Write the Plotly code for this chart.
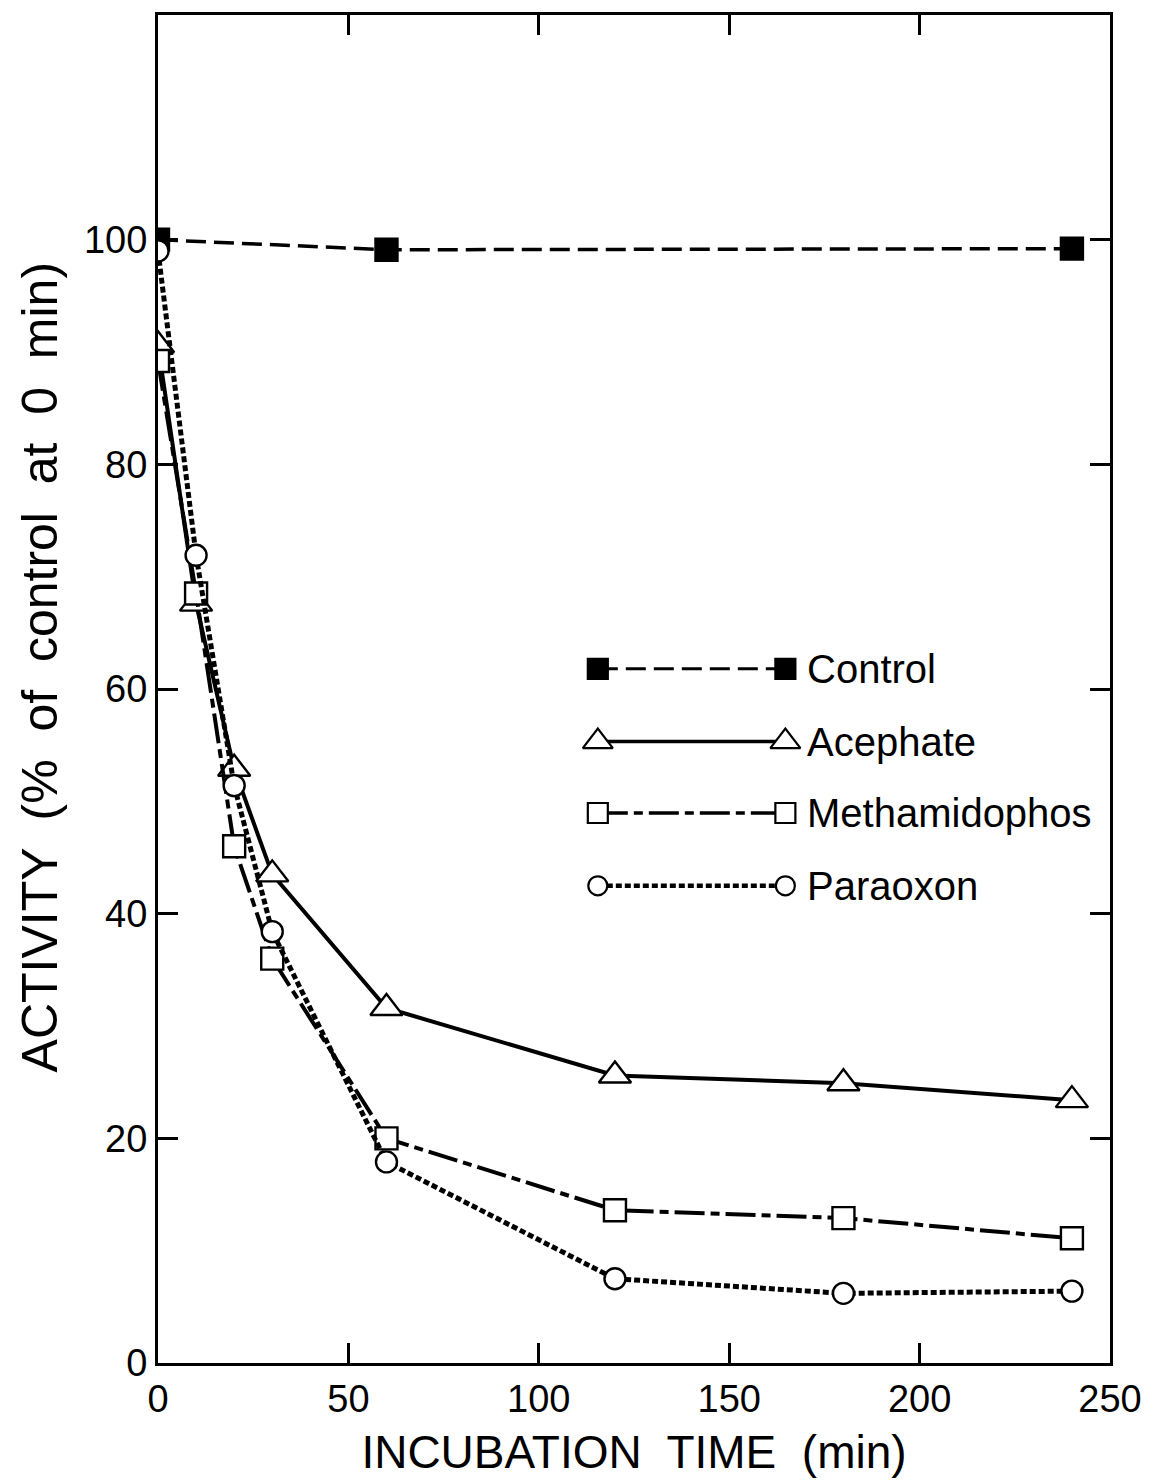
import plotly.graph_objects as go

# Incubation times (min)
time_control = [0, 60, 240]
time_series = [0, 10, 20, 30, 60, 120, 180, 240]

# Activity (% of control at 0 min)
control = [100, 99.1, 99.2]
acephate = [90.6, 67.6, 52.9, 43.5, 31.6, 25.6, 24.9, 23.4]
methamidophos = [89.2, 68.5, 46.0, 36.0, 20.0, 13.6, 12.9, 11.1]
paraoxon = [99.0, 71.9, 51.4, 38.4, 17.9, 7.5, 6.2, 6.4]

FONT = "Liberation Sans, Arial, Helvetica, sans-serif"
INK = "black"

styles = {
    "Control": dict(symbol="square", fill=INK, dash="20px,8px", width=3.5, size=22),
    "Acephate": dict(symbol="triangle-up", fill="white", dash="solid", width=4, size=28),
    "Methamidophos": dict(symbol="square", fill="white", dash="30px,6px,9px,6px", width=4, size=22),
    "Paraoxon": dict(symbol="circle", fill="white", dash="6px,3px", width=5, size=21),
}

series = [
    ("Control", time_control, control),
    ("Acephate", time_series, acephate),
    ("Methamidophos", time_series, methamidophos),
    ("Paraoxon", time_series, paraoxon),
]

fig = go.Figure()

for name, xs, ys in series:
    st = styles[name]
    fig.add_trace(go.Scatter(
        x=xs, y=ys, mode="lines+markers", name=name, showlegend=False,
        line=dict(color=INK, width=st["width"], dash=st["dash"]),
        marker=dict(symbol=st["symbol"], size=st["size"], color=st["fill"],
                    line=dict(color=INK, width=2.4)),
    ))

# Hand-drawn style key: marker — line — marker, then the label (overlay axes spanning 0..1)
key_x0, key_x1, key_text_x = 0.462, 0.659, 0.68
key_rows = [0.515, 0.461, 0.408, 0.354]
for (name, _, _), ky in zip(series, key_rows):
    st = styles[name]
    fig.add_trace(go.Scatter(
        x=[key_x0, key_x1], y=[ky, ky], mode="lines+markers", showlegend=False,
        xaxis="x2", yaxis="y2", hoverinfo="skip",
        line=dict(color=INK, width=st["width"] - 0.5, dash=st["dash"]),
        marker=dict(symbol=st["symbol"], size=st["size"] - 2, color=st["fill"],
                    line=dict(color=INK, width=2.2)),
    ))
    fig.add_annotation(
        x=key_text_x, y=ky, xref="x2", yref="y2", text=name, showarrow=False,
        xanchor="left", yanchor="middle", font=dict(family=FONT, size=40, color=INK),
    )

# Vertical axis title, placed as rotated text
fig.add_annotation(
    x=-0.124, y=0.516, xref="paper", yref="paper",
    text="ACTIVITY  (%  of  control  at  0  min)", textangle=-90, showarrow=False,
    xanchor="center", yanchor="middle", font=dict(family=FONT, size=50, color=INK),
)

axis_common = dict(
    showline=True, linecolor=INK, linewidth=3, mirror="ticks",
    ticks="inside", ticklen=20, tickwidth=2.5, tickcolor=INK,
    showgrid=False, zeroline=False,
    tickfont=dict(family=FONT, size=38, color=INK),
)

fig.update_layout(
    width=1153, height=1482,
    margin=dict(l=158, r=43, t=15, b=119),
    paper_bgcolor="white", plot_bgcolor="white",
    xaxis=dict(range=[0, 250], tickvals=[0, 50, 100, 150, 200, 250],
               title=dict(text="INCUBATION  TIME  (min)", standoff=18,
                          font=dict(family=FONT, size=46, color=INK)),
               **axis_common),
    yaxis=dict(range=[0, 120], tickvals=[0, 20, 40, 60, 80, 100], **axis_common),
    xaxis2=dict(range=[0, 1], overlaying="x", visible=False),
    yaxis2=dict(range=[0, 1], overlaying="y", visible=False),
    showlegend=False,
)

fig.write_html("out.html")
